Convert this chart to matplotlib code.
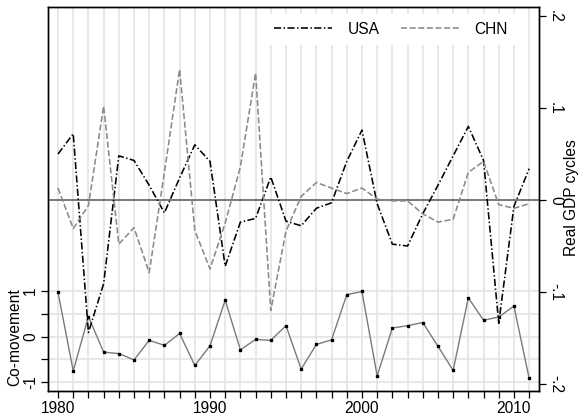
import matplotlib
matplotlib.use('Agg')
import matplotlib.pyplot as plt

years = list(range(1980, 2012))
usa = [0.050, 0.072, -0.144, -0.091, 0.048, 0.043, 0.016, -0.014, 0.024, 0.060,
       0.042, -0.072, -0.024, -0.020, 0.025, -0.023, -0.028, -0.009, -0.003, 0.042,
       0.076, -0.004, -0.048, -0.050, -0.015, 0.016, 0.048, 0.080, 0.043, -0.134,
       -0.007, 0.034]
chn = [0.013, -0.031, -0.006, 0.102, -0.048, -0.030, -0.079, 0.030, 0.142, -0.033,
       -0.075, -0.025, 0.036, 0.138, -0.120, -0.034, 0.004, 0.019, 0.013, 0.007,
       0.013, 0.001, -0.001, -0.001, -0.015, -0.024, -0.021, 0.030, 0.042, -0.005,
       -0.009, -0.004]
comov = [0.97, -0.75, 0.44, -0.34, -0.37, -0.51, -0.08, -0.19, 0.07, -0.63,
         -0.20, 0.80, -0.29, -0.06, -0.08, 0.24, -0.71, -0.17, -0.07, 0.92,
         0.99, -0.86, 0.19, 0.24, 0.31, -0.21, -0.74, 0.85, 0.36, 0.43,
         0.67, -0.91]
major_years = [1980, 1990, 2000, 2010]
left_ticks = [-1, -0.5, 0, 0.5, 1]
left_labels = ['-1', '', '0', '', '1']
right_ticks = [-0.2, -0.1, 0, 0.1, 0.2]
right_labels = ['-.2', '-.1', '0', '.1', '.2']

plt.rcParams['font.family'] = ['Liberation Sans', 'DejaVu Sans']
FS = 11.2

fig = plt.figure(figsize=(5.79, 4.2), dpi=100)
ax = fig.add_axes([48/579, 1-391/420, 491/579, 384/420])
ax2 = ax.twinx()

grid_c = '#e2e2e2'
for y in years:
    ax.axvline(y, color=grid_c, lw=1.1, zorder=0)
for t in left_ticks:
    ax.axhline(t, color=grid_c, lw=1.1, zorder=0)

ax.plot(years, comov, color='#7a7a7a', lw=1.0, marker='s', markersize=1.8,
        markerfacecolor='black', markeredgecolor='black', zorder=3)
ax.set_xlim(1979.34, 2011.65)
ax.set_ylim(-1.19, 7.22)
ax.set_yticks(left_ticks)
ax.set_yticklabels(left_labels)
ax.set_xticks(major_years)
ax.set_xticks(years, minor=True)
ax.tick_params(axis='x', which='both', length=5, width=0.9, pad=2, labelsize=FS)
ax.tick_params(axis='y', length=5, width=0.9, pad=2, labelsize=FS)
for t in ax.get_yticklabels():
    t.set_rotation(90)
    t.set_va('center')

ax2.axhline(0, color='#555555', lw=1.1, zorder=1)
ax2.plot(years, usa, color='black', lw=1.15, dashes=(4.5, 1.5, 0.9, 1.5), label='USA', zorder=3)
ax2.plot(years, chn, color='#8a8a8a', lw=1.15, dashes=(3.8, 1.6), label='CHN', zorder=3)
ax2.set_ylim(-0.2076, 0.2098)
ax2.set_yticks(right_ticks)
ax2.set_yticklabels(right_labels)
ax2.tick_params(axis='y', length=5, width=0.9, pad=1.5, labelsize=FS)
for t in ax2.get_yticklabels():
    t.set_rotation(-90)
    t.set_va('center')

for a in (ax, ax2):
    for s in a.spines.values():
        s.set_linewidth(1.0)
        s.set_color('black')

leg = ax2.legend(loc='center', bbox_to_anchor=(391/579, 1-29/420),
                 bbox_transform=fig.transFigure, ncol=2, frameon=True,
                 fontsize=FS, handlelength=3.7, handletextpad=1.0,
                 columnspacing=1.4, borderpad=0.5, fancybox=False)
leg.get_frame().set_facecolor('white')
leg.get_frame().set_edgecolor('white')
leg.get_frame().set_alpha(1)

fig.text(15/579, 1-337/420, 'Co-movement', rotation=90, ha='center', va='center', fontsize=FS)
fig.text(571.5/579, 1-198/420, 'Real GDP cycles', rotation=90, ha='center', va='center', fontsize=FS)

fig.savefig('out.png', dpi=100)
